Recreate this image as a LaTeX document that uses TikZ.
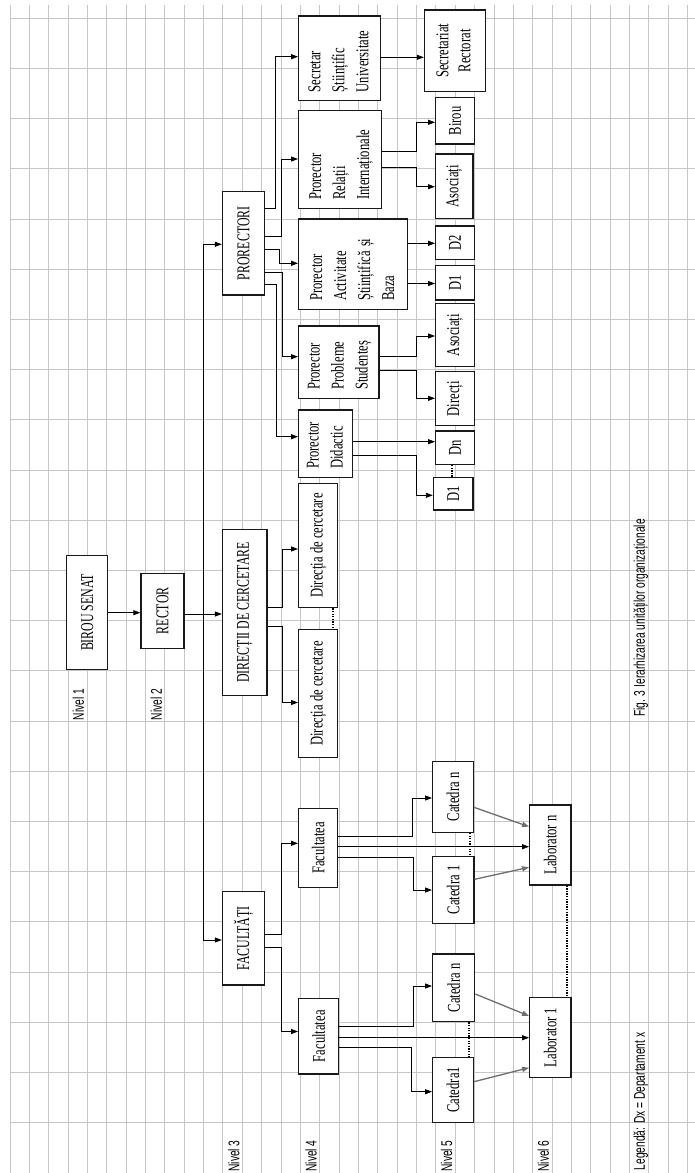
\documentclass[tikz,border=0pt]{standalone}
\usepackage{fontspec}
\usepackage{graphicx}
\setmainfont{Liberation Serif}
\newfontfamily\lsans{Liberation Sans}
\usetikzlibrary{arrows.meta}
\definecolor{gridc}{RGB}{198,198,198}
\definecolor{gline}{RGB}{110,110,110}
\newcommand{\ml}[2]{\scalebox{0.7}[1]{\begin{tabular}{@{}#1@{}}#2\end{tabular}}}
\newcommand{\lw}[1]{\scalebox{0.7}[1]{#1}}
\newcommand{\up}[1]{\scalebox{0.66}[1]{#1}}
\newcommand{\lbl}[1]{\scalebox{0.66}[1]{\lsans\fontsize{15.5}{18}\selectfont #1}}
\tikzset{
  gridline/.style={draw=gridc, line width=1pt},
  box/.style={draw=black!90, line width=1.3pt, fill=white, rotate=90, inner sep=0pt,
              font=\fontsize{18}{24}\selectfont},
  mbox/.style={box, align=left, inner xsep=8.5pt},
  sz/.style n args={2}{minimum width=#1pt, minimum height=#2pt},
  conn/.style={line width=0.9pt, -{Triangle[length=7pt,width=5pt]}},
  gconn/.style={draw=gline, line width=1.3pt, -{Triangle[length=7pt,width=5pt]}},
  dots/.style={line width=2pt, dash pattern=on 1.3pt off 1.3pt},
  lvl/.style={rotate=90, inner sep=0pt}
}
\begin{document}
\begin{tikzpicture}[x=1pt, y=-1pt]
\fill[white] (0,0) rectangle (695,1173);
\useasboundingbox (0,0) rectangle (695,1173);
% grid
\foreach \k in {0,...,35} \draw[gridline] ({10+19.36*\k},5) -- ({10+19.36*\k},1173);
\foreach \k in {0,...,22} \draw[gridline] (10,{18.3+50.2*\k}) -- (695,{18.3+50.2*\k});

% level labels
\node[lvl] (n1) at (78.4,704.5) {\lbl{Nivel 1}};
\node[lvl] (n2) at (156.3,704.5) {\lbl{Nivel 2}};
\node[lvl] (n3) at (233.8,1156) {\lbl{Nivel 3}};
\node[lvl] (n4) at (311,1156) {\lbl{Nivel 4}};
\node[lvl] (n5) at (446.5,1156) {\lbl{Nivel 5}};
\node[lvl] (n6) at (543.3,1156) {\lbl{Nivel 6}};
\node[lvl] (caption) at (640.8,618) {\lbl{Fig. 3 Ierarhizarea unităților organizaționale}};
\node[lvl] (legend) at (640.8,1101.5) {\lbl{Legendă: Dx = Departament x}};

% top levels
\node[box, sz={113.6}{41}] (senat) at (87.2,612.5) {\up{BIROU SENAT}};
\node[box, sz={75}{43}] (rector) at (162.5,610.8) {\up{RECTOR}};
\node[box, sz={103.3}{42}] (prorectori) at (243.5,243.3) {\up{PRORECTORI}};
\node[box, sz={166.2}{44.5}] (directii) at (244.8,612.4) {\up{DIRECȚII DE CERCETARE}};
\node[box, sz={93.3}{42}] (facultati) at (243.5,938.3) {\up{FACULTĂȚI}};

% prorectori subtree
\node[mbox, sz={84.7}{81.6}, text width=67.7pt] (secretar) at (339.5,58.3) {\ml{l}{Secretar\\Științific\\Universitate}};
\node[box, sz={81.7}{61}, font=\fontsize{18}{22}\selectfont] (secretariat) at (455,50.8) {\ml{c}{Secretariat\\Rectorat}};
\node[mbox, sz={98}{83}, text width=81pt] (relatii) at (340.2,159.3) {\ml{l}{Prorector\\Relații\\Internaționale}};
\node[box, sz={46.3}{38.6}] (birou) at (455,120.8) {\lw{Birou}};
\node[box, sz={64.3}{37.3}] (asoc1) at (454.3,186.2) {\lw{Asociați}};
\node[mbox, sz={90.3}{109}, text width=73.3pt] (activ) at (353.2,264.2) {\ml{l}{Prorector\\Activitate\\Științifică și\\Baza}};
\node[box, sz={33.3}{38.6}] (d2) at (455,242.7) {\lw{D2}};
\node[box, sz={34.3}{38.6}] (d1a) at (455,282.8) {\lw{D1}};
\node[box, sz={63.3}{38.6}] (asoc2) at (455,335) {\lw{Asociați}};
\node[box, sz={54}{38.6}] (directi) at (455,398.7) {\lw{Direcți}};
\node[mbox, sz={72.3}{80.3}, text width=55.3pt] (probleme) at (338.8,362.2) {\ml{l}{Prorector\\Probleme\\Studenteș}};
\node[mbox, sz={67.3}{54}, text width=50.3pt] (didactic) at (325.7,443.7) {\ml{l}{Prorector\\Didactic}};
\node[box, sz={33.3}{38.6}] (dn) at (455,447.7) {\lw{Dn}};
\node[box, sz={32.7}{39.5}] (d1b) at (453.2,493.7) {\lw{D1}};

% directii subtree
\node[box, sz={124.4}{39}] (dc1) at (318.2,545.5) {\lw{Direcția de cercetare}};
\node[box, sz={128.4}{39}] (dc2) at (318.2,693.5) {\lw{Direcția de cercetare}};

% facultati subtree
\node[box, sz={79}{39}] (fac1) at (318.2,847.8) {\lw{Facultatea}};
\node[box, sz={70.6}{40.6}] (catn1) at (453,797) {\lw{Catedra n}};
\node[box, sz={66.6}{41.3}] (cat1) at (453.3,890) {\lw{Catedra 1}};
\node[box, sz={80}{41.2}] (labn) at (550.3,845) {\lw{Laborator n}};
\node[box, sz={75.7}{40}] (fac2) at (318.7,1036.2) {\lw{Facultatea}};
\node[box, sz={67.7}{42}] (catn2) at (453.7,987.8) {\lw{Catedra n}};
\node[box, sz={65}{40.6}] (cat2) at (453,1089.8) {\lw{Catedra1}};
\node[box, sz={80.4}{41.2}] (lab1) at (550.3,1037.5) {\lw{Laborator 1}};

% connectors: top
\draw[conn] (senat.south |- 0,612.7) -- (rector.north |- 0,612.7);
\draw[conn] (rector.south |- 0,614) -- (directii.north |- 0,614);
\coordinate (tr) at (203.7,614);
\draw[conn] (tr) |- (prorectori.north |- 0,244.3);
\draw[conn] (tr) |- (facultati.north |- 0,940);

% prorectori branches
\draw[conn] (prorectori.south |- 0,208.3) -| (275.7,56.7) -- (secretar.north |- 0,56.7);
\draw[conn] (prorectori.south |- 0,236.7) -| (281,159) -- (relatii.north |- 0,159);
\draw[conn] (prorectori.south |- 0,249) -| (279,263.3) -- (activ.north |- 0,263.3);
\draw[conn] (prorectori.south |- 0,272.7) -| (282,356.7) -- (probleme.north |- 0,356.7);
\draw[conn] (prorectori.south |- 0,284.7) -| (276,436.7) -- (didactic.north |- 0,436.7);

\draw[conn] (secretar.south |- 0,57.3) -- (secretariat.north |- 0,57.3);
\draw[conn] (relatii.south |- 0,151) -| (416.6,122.3) -- (birou.north |- 0,122.3);
\draw[conn] (relatii.south |- 0,167.7) -| (416.6,186.7) -- (asoc1.north |- 0,186.7);
\draw[conn] (activ.south |- 0,243.3) -- (d2.north |- 0,243.3);
\draw[conn] (activ.south |- 0,283.5) -- (d1a.north |- 0,283.5);
\draw[conn] (probleme.south |- 0,356) -| (416.6,336) -- (asoc2.north |- 0,336);
\draw[conn] (probleme.south |- 0,370.7) -| (416.6,398.3) -- (directi.north |- 0,398.3);
\draw[conn] (didactic.south |- 0,441.7) -- (dn.north |- 0,441.7);
\draw[conn] (didactic.south |- 0,455.7) -| (416.6,495.3) -- (d1b.north |- 0,495.3);
\draw[dots] (dn.west -| 452,0) -- (d1b.east -| 452,0);

% directii branches
\draw[conn] (directii.south |- 0,607) -| (282.5,549) -- (dc1.north |- 0,549);
\draw[conn] (directii.south |- 0,626) -| (282.5,702.5) -- (dc2.north |- 0,702.5);
\draw[dots] (dc1.west -| 333.3,0) -- (dc2.east -| 333.3,0);

% facultati branches
\draw[conn] (facultati.south |- 0,934.5) -| (281,843.3) -- (fac1.north |- 0,843.3);
\draw[conn] (facultati.south |- 0,947.7) -| (281,1031.5) -- (fac2.north |- 0,1031.5);

\draw[conn] (fac1.south |- 0,836) -| (412.2,798) -- (catn1.north |- 0,798);
\draw[conn] (fac1.south |- 0,846.7) -- (labn.north |- 0,846.7);
\draw[conn] (fac1.south |- 0,857.7) -| (413.3,890) -- (cat1.north |- 0,890);
\draw[gconn] (catn1.south |- 0,807.3) -- (labn.north |- 0,826.7);
\draw[gconn] (cat1.south |- 0,879.3) -- (labn.north |- 0,867.3);
\draw[dots] (catn1.west -| 469.5,0) -- (cat1.east -| 469.5,0);

\draw[conn] (fac2.south |- 0,1026) -| (413.3,986) -- (catn2.north |- 0,986);
\draw[conn] (fac2.south |- 0,1037.7) -- (lab1.north |- 0,1037.7);
\draw[conn] (fac2.south |- 0,1047.7) -| (411.7,1091.7) -- (cat2.north |- 0,1091.7);
\draw[gconn] (catn2.south |- 0,994) -- (lab1.north |- 0,1016);
\draw[gconn] (cat2.south |- 0,1081.7) -- (lab1.north |- 0,1067.7);
\draw[dots] (catn2.west -| 469.3,0) -- (cat2.east -| 469.3,0);
\draw[dots] (labn.west -| 567.3,0) -- (lab1.east -| 567.3,0);
\end{tikzpicture}
\end{document}
